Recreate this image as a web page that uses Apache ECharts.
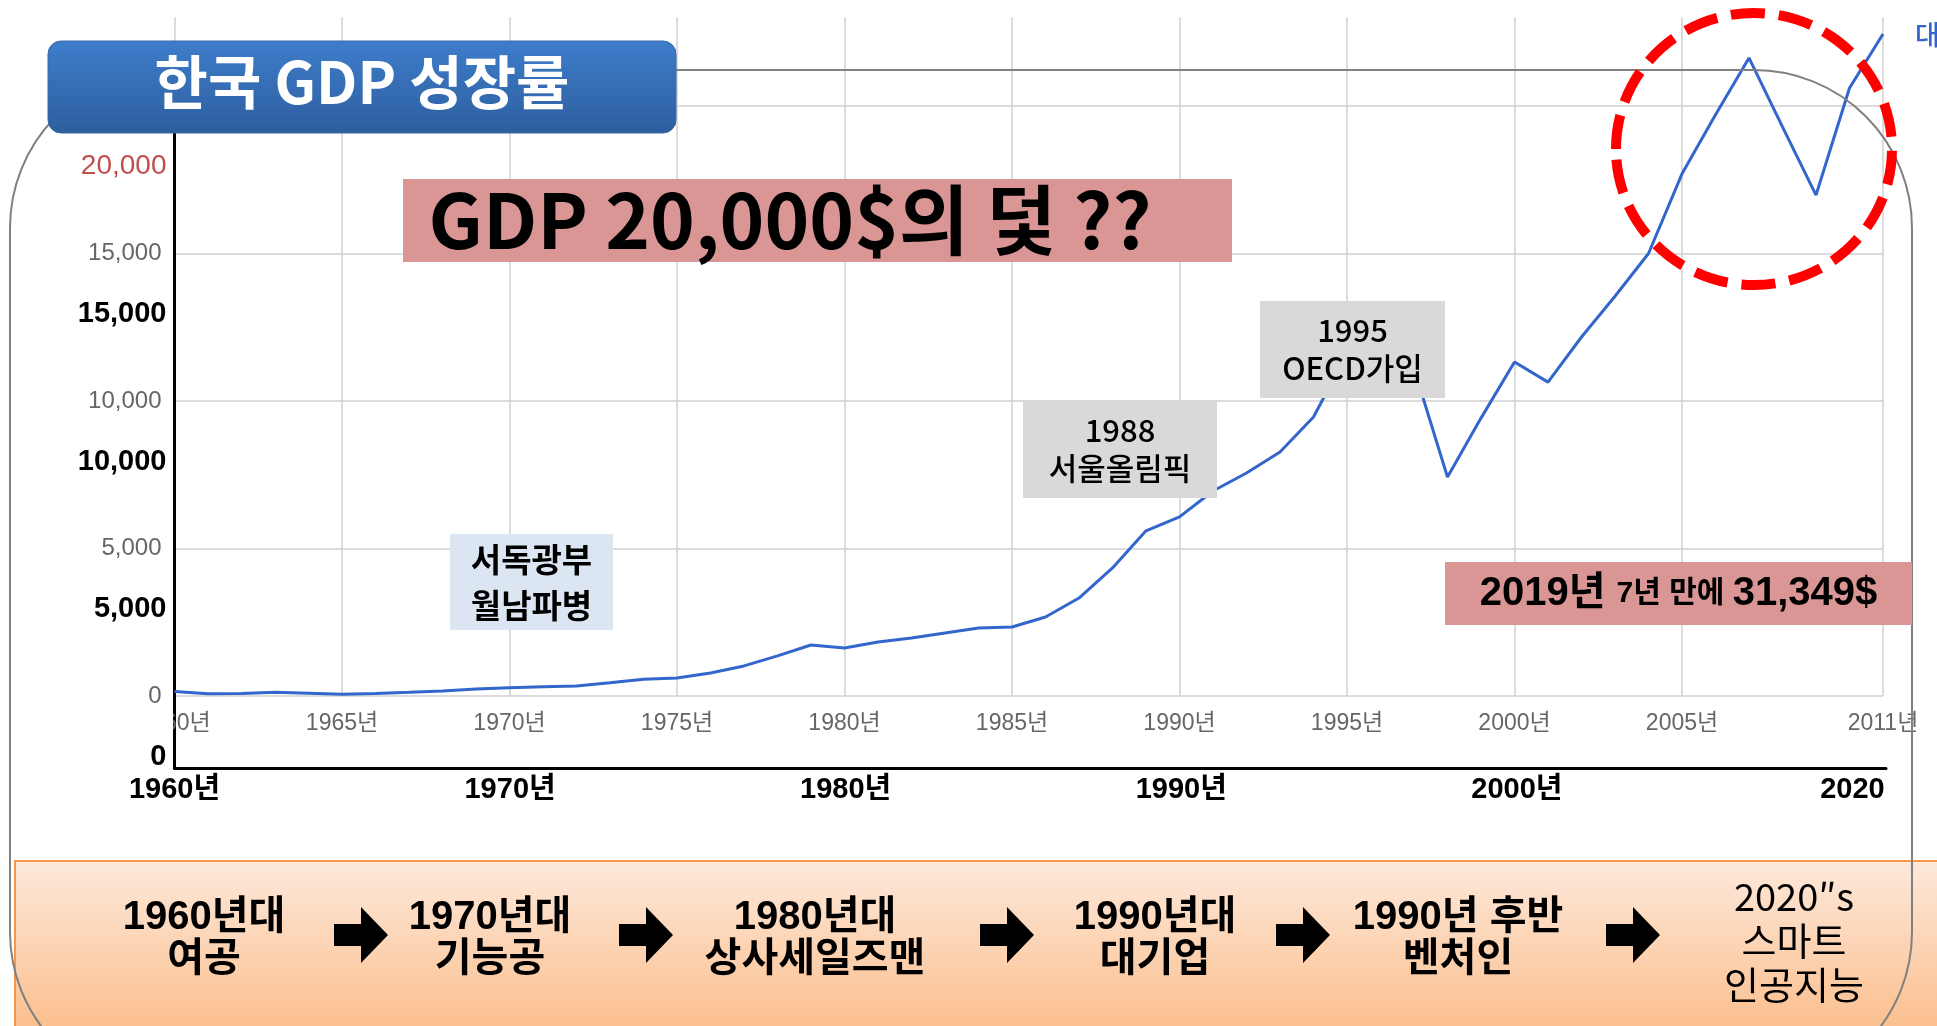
<!DOCTYPE html>
<html>
<head>
<meta charset="utf-8">
<title>한국 GDP 성장률</title>
<script src="https://cdn.jsdelivr.net/npm/echarts@6/dist/echarts.min.js"></script>
<style>
  html, body { margin: 0; padding: 0; background: #fff; }
  #chart-container { width: 1937px; height: 1026px; }
</style>
</head>
<body>
<div id="chart-container"></div>
<script>
var years = ['1960', '1961', '1962', '1963', '1964', '1965', '1966', '1967', '1968', '1969',
  '1970', '1971', '1972', '1973', '1974', '1975', '1976', '1977', '1978', '1979',
  '1980', '1981', '1982', '1983', '1984', '1985', '1986', '1987', '1988', '1989',
  '1990', '1991', '1992', '1993', '1994', '1995', '1996', '1997', '1998', '1999',
  '2000', '2001', '2002', '2003', '2004', '2005', '2006', '2007', '2008', '2009',
  '2010', '2011'];
// GDP per capita (US$)
var gdpPerCapita = [150, 80, 85, 125, 95, 60, 85, 125, 170, 235,
  280, 315, 340, 450, 570, 610, 780, 1020, 1360, 1730,
  1630, 1830, 1965, 2135, 2305, 2340, 2680, 3320, 4340, 5600,
  6070, 6950, 7560, 8270, 9460, 11600, 12400, 11100, 7420, 9420,
  11320, 10640, 12170, 13550, 15000, 17700, 19700, 21630, 19290, 16980,
  20610, 22440];
var lightXTicks = ['1960', '1965', '1970', '1975', '1980', '1985', '1990', '1995', '2000', '2005', '2011'];
var boldXTicks = ['1960', '1970', '1980', '1990', '2000', '2010'];
var boldXText = ['1960년', '1970년', '1980년', '1990년', '2000년', '2020'];
var stages = [['1960년대', '여공'], ['1970년대', '기능공'], ['1980년대', '상사세일즈맨'], ['1990년대', '대기업'], ['1990년 후반', '벤처인']];
var lastStage = ['2020″s', '스마트', '인공지능'];

var latin = "'Liberation Sans', 'Noto Sans CJK KR', sans-serif";
var kr = "'Noto Sans CJK KR', sans-serif";

var dom = document.getElementById('chart-container');
var myChart = echarts.init(dom, null, { renderer: 'canvas' });

function noteBox(x, y, w, h, fill, style, tx) {
  return {
    type: 'group',
    children: [
      { type: 'rect', z: 60, shape: { x: x, y: y, width: w, height: h }, style: { fill: fill } },
      { type: 'text', z: 61, x: tx || x + w / 2, y: y + h / 2,
        style: Object.assign({ fill: '#000', align: 'center', verticalAlign: 'middle' }, style) }
    ]
  };
}

function arrow(cx, cy) {
  return {
    type: 'polygon', z: 30,
    shape: { points: [[cx - 27, cy - 11], [cx, cy - 11], [cx, cy - 28], [cx + 27, cy], [cx, cy + 28], [cx, cy + 11], [cx - 27, cy + 11]] },
    style: { fill: '#000' }
  };
}

var stageX = [204, 490, 815, 1155, 1458];
var arrowX = [361, 646, 1007, 1303, 1633];

var elements = [
  // bottom band
  { type: 'rect', z: 20, shape: { x: 15, y: 861, width: 1930, height: 175 },
    style: { fill: new echarts.graphic.LinearGradient(0, 0, 0, 1, [
      { offset: 0, color: '#fde9db' }, { offset: 1, color: '#fbbd8a' }]),
      stroke: '#f79646', lineWidth: 2 } },
  // slide frame
  { type: 'rect', z: 25, shape: { x: 10, y: 70, width: 1902, height: 1020, r: 158 },
    style: { fill: 'none', stroke: '#808080', lineWidth: 2 } },
  // hide left part of first light x label
  { type: 'rect', z: 40, shape: { x: 90, y: 706, width: 83, height: 31 }, style: { fill: '#fff' } },
  // title
  { type: 'rect', z: 70, shape: { x: 48, y: 41, width: 628, height: 92, r: 13 },
    style: { fill: new echarts.graphic.LinearGradient(0, 0, 0, 1, [
      { offset: 0, color: '#3e7dcb' }, { offset: 1, color: '#2d5e9e' }]),
      stroke: '#3a6aa8', lineWidth: 1 } },
  { type: 'text', z: 71, x: 362, y: 82,
    style: { text: '한국 GDP 성장률', fill: '#fff', font: 'bold 58px ' + kr, align: 'center', verticalAlign: 'middle' } },
  noteBox(403, 179, 829, 83, '#d99694', { text: 'GDP 20,000$의 덫 ??', font: 'bold 76px ' + kr }, 790),
  noteBox(1260, 301, 185, 97, '#d9d9d9', { text: '1995\nOECD가입', font: '500 31px ' + kr, lineHeight: 38 }),
  noteBox(1023, 401, 194, 97, '#d9d9d9', { text: '1988\n서울올림픽', font: '500 31px ' + kr, lineHeight: 38 }),
  noteBox(450, 534, 163, 96, '#dce6f2', { text: '서독광부\n월남파병', font: 'bold 33px ' + kr, lineHeight: 46 }),
  noteBox(1445, 562, 467, 63, '#d99694', {
    text: '{a|2019년 }{b|7년 만에 }{a|31,349$}',
    rich: {
      a: { fontSize: 40, fontWeight: 'bold', fontFamily: latin, fill: '#000' },
      b: { fontSize: 30, fontWeight: 'bold', fontFamily: latin, fill: '#000' }
    }
  }),
  // red dashed circle
  { type: 'ellipse', z: 80, shape: { cx: 1754, cy: 149, rx: 138, ry: 136 },
    style: { fill: 'none', stroke: '#ff0000', lineWidth: 10, lineDash: [34, 14] } },
  // clipped legend text
  { type: 'text', z: 50, x: 1915, y: 35,
    style: { text: '대한민국', fill: '#3366cc', font: '500 27px ' + kr, verticalAlign: 'middle' } },
  { type: 'text', z: 31, x: 1794, y: 941,
    style: { text: lastStage.join('\n'), fill: '#000', font: '38px ' + kr, lineHeight: 44, align: 'center', verticalAlign: 'middle' } }
];
stages.forEach(function (s, i) {
  elements.push({ type: 'text', z: 31, x: stageX[i], y: 939,
    style: { text: s.join('\n'), fill: '#000', font: 'bold 40px ' + latin, lineHeight: 42, align: 'center', verticalAlign: 'middle' } });
});
arrowX.forEach(function (x) { elements.push(arrow(x, 935)); });

var option = {
  animation: false,
  grid: [
    { left: 174.5, right: 54, top: 17.5, bottom: 330 },
    { left: 174.5, right: 54, top: 166, bottom: 269 },
    { left: 174.5, right: 51, top: 133, bottom: 258 }
  ],
  xAxis: [
    {
      gridIndex: 0, type: 'category', data: years, boundaryGap: false,
      axisLine: { show: false }, axisTick: { show: false },
      axisLabel: {
        interval: function (i, v) { return lightXTicks.indexOf(v) >= 0; },
        formatter: '{value}년', color: '#666', fontSize: 23, fontFamily: latin, margin: 16
      },
      splitLine: {
        show: true,
        interval: function (i, v) { return lightXTicks.indexOf(v) >= 0; },
        lineStyle: { color: '#d0d0d0', width: 1.5 }
      }
    },
    { gridIndex: 1, type: 'category', data: years, show: false },
    {
      gridIndex: 2, type: 'category', data: years, boundaryGap: false,
      axisLine: { onZero: false, lineStyle: { color: '#000', width: 3 } },
      axisTick: { show: false },
      axisLabel: {
        interval: function (i, v) { return boldXTicks.indexOf(v) >= 0; },
        formatter: function (v) { return boldXText[boldXTicks.indexOf(v)]; },
        color: '#000', fontSize: 29, fontWeight: 'bold', fontFamily: latin, margin: 7
      }
    }
  ],
  yAxis: [
    {
      gridIndex: 0, type: 'value', min: 0, max: 23000, interval: 5000,
      axisLine: { show: false }, axisTick: { show: false },
      axisLabel: {
        showMaxLabel: false,
        formatter: function (v) { return v.toLocaleString('en-US'); },
        color: '#666', fontSize: 24, fontFamily: latin, margin: 13
      },
      splitLine: { showMaxLine: false, lineStyle: { color: '#d0d0d0', width: 1.5 } }
    },
    {
      gridIndex: 1, type: 'value', min: 0, max: 20000, interval: 5000,
      axisLine: { show: false }, axisTick: { show: false }, splitLine: { show: false },
      axisLabel: {
        margin: 8,
        formatter: function (v) {
          var s = v.toLocaleString('en-US');
          return v === 20000 ? '{r|' + s + '}' : '{b|' + s + '}';
        },
        rich: {
          r: { color: '#c0504d', fontSize: 28, fontFamily: latin },
          b: { color: '#000', fontSize: 29, fontWeight: 'bold', fontFamily: latin }
        }
      }
    },
    {
      gridIndex: 2, type: 'value',
      axisLine: { show: true, onZero: false, lineStyle: { color: '#000', width: 3 } },
      axisTick: { show: false }, axisLabel: { show: false }, splitLine: { show: false }
    }
  ],
  series: [
    {
      type: 'line', xAxisIndex: 0, yAxisIndex: 0,
      data: gdpPerCapita, symbol: 'none', z: 3,
      lineStyle: { color: '#3366cc', width: 3 }
    }
  ],
  graphic: { elements: elements }
};

myChart.setOption(option);
window.addEventListener('resize', myChart.resize);
</script>
</body>
</html>
